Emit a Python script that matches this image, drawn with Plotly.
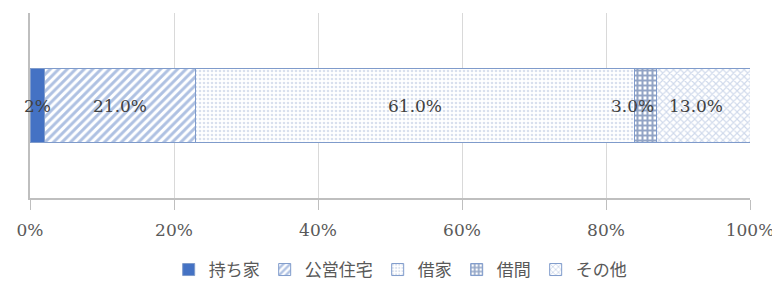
import plotly.graph_objects as go

categories = ["持ち家", "公営住宅", "借家", "借間", "その他"]
values = [2, 21, 61, 3, 13]
value_labels = ["2%", "21.0%", "61.0%", "3.0%", "13.0%"]
tick_vals = [0, 20, 40, 60, 80, 100]
tick_text = ["0%", "20%", "40%", "60%", "80%", "100%"]

# styles (not data)
fg_colors = ["#4472C4", "#5f84c6", "#b3c2de", "#254a8c", "#9fb3d8"]
pattern_shapes = ["", "/", ".", "+", "x"]
pattern_sizes = [6, 6, 4, 5, 5]
pattern_solid = [0.3, 0.5, 0.35, 0.65, 0.4]
label_shift = [0, 0, 0, -13, -7]

fig = go.Figure()
for i, (cat, v) in enumerate(zip(categories, values)):
    if pattern_shapes[i] == "":
        marker = dict(color=fg_colors[i], line=dict(color="#7f9bcb", width=1))
    else:
        marker = dict(
            color="white",
            line=dict(color="#7f9bcb", width=1),
            pattern=dict(shape=pattern_shapes[i], fgcolor=fg_colors[i], bgcolor="white",
                         size=pattern_sizes[i], solidity=pattern_solid[i], fillmode="overlay"),
        )
    fig.add_trace(go.Bar(
        x=[v], y=[""], name=cat, orientation="h", marker=marker, width=0.395,
        hoverinfo="skip",
    ))

cum = 0
for i, v in enumerate(values):
    mid = cum + v / 2
    cum += v
    fig.add_annotation(
        x=mid, y=0, xref="x", yref="y", text=value_labels[i], showarrow=False,
        xshift=label_shift[i],
        font=dict(family="DejaVu Serif, Liberation Serif, serif", size=17, color="#404040"),
    )

fig.update_layout(
    barmode="stack",
    width=772, height=278,
    margin=dict(l=22, r=30, t=5, b=88, autoexpand=False),
    paper_bgcolor="white", plot_bgcolor="white",
    showlegend=True,
    legend=dict(
        orientation="h", x=0.508, xanchor="center", xref="container",
        y=0.0576, yanchor="middle", yref="container",
        font=dict(family="Noto Sans CJK JP", size=17, color="#595959"),
        traceorder="normal", itemwidth=30,
        tracegroupgap=0,
    ),
    xaxis=dict(
        range=[0, 100], tickvals=tick_vals, ticktext=tick_text,
        showgrid=True, gridcolor="#d9d9d9", gridwidth=1,
        showline=True, linecolor="#bfbfbf", linewidth=1.5,
        ticks="outside", ticklen=10, tickcolor="#bfbfbf", tickwidth=1,
        ticklabelstandoff=6, automargin=False,
        tickfont=dict(family="DejaVu Serif, Liberation Serif, serif", size=17, color="#595959"),
        zeroline=False, fixedrange=True,
    ),
    yaxis=dict(
        range=[-0.5, 0.5], showticklabels=False, showgrid=False, automargin=False,
        showline=True, linecolor="#bfbfbf", linewidth=1.5, zeroline=False,
    ),
)

fig.write_html("out.html")
